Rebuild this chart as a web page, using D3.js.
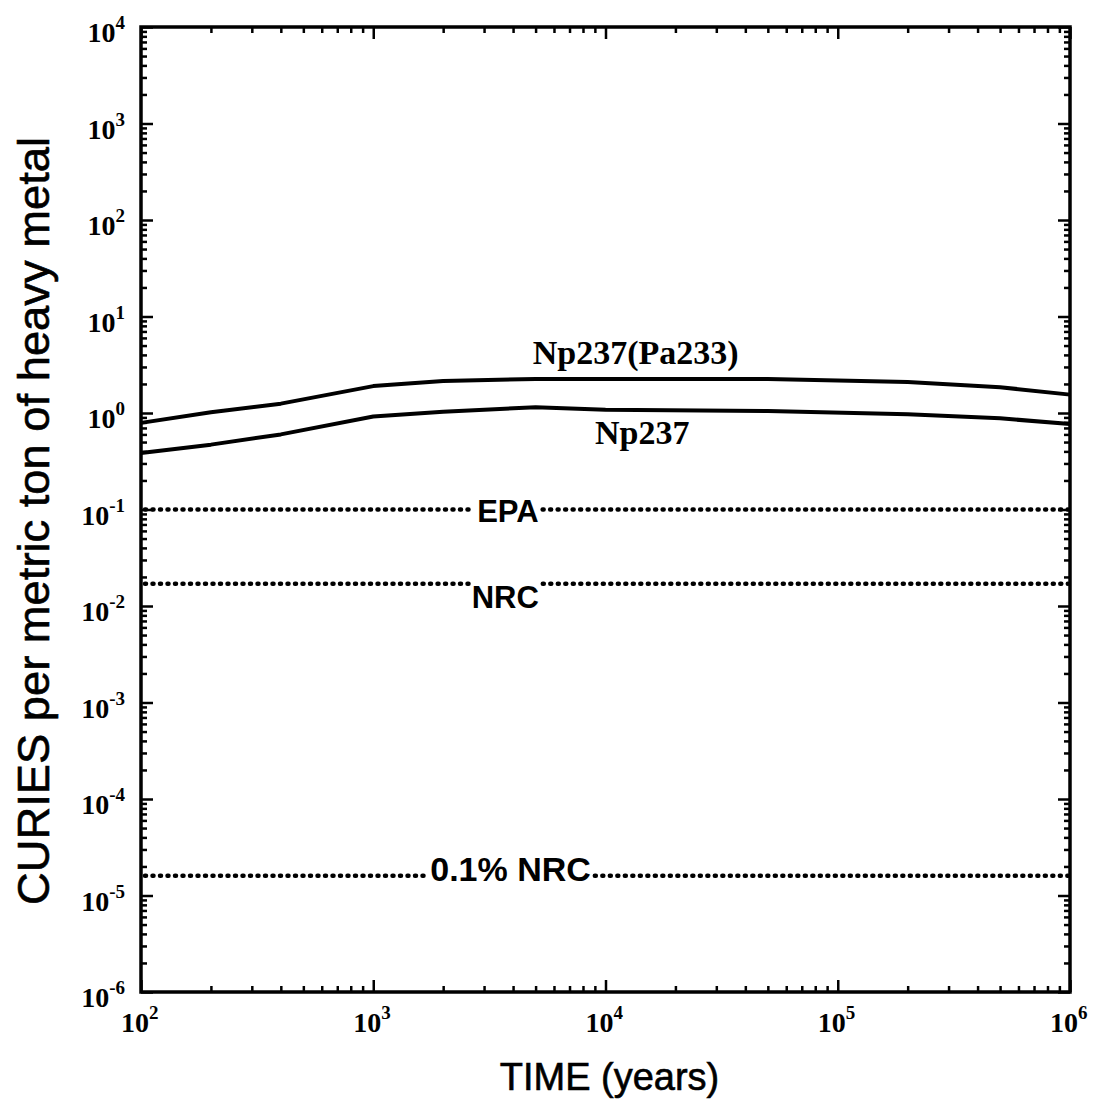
<!DOCTYPE html>
<html><head><meta charset="utf-8">
<script src="https://cdn.jsdelivr.net/npm/d3@7"></script>
<style>body{margin:0;background:#fff}svg{display:block}</style>
</head><body>
<script>
const times = [100, 200, 400, 1000, 2000, 5000, 1e4, 5e4, 2e5, 5e5, 1e6];
const np237pa233 = [0.79, 1.02, 1.25, 1.9, 2.15, 2.25, 2.25, 2.25, 2.1, 1.85, 1.55];
const np237 = [0.385, 0.47, 0.6, 0.92, 1.03, 1.15, 1.08, 1.05, 0.97, 0.88, 0.77];
const limitNames = ["EPA", "NRC", "0.1% NRC"];
const limitValues = [0.1, 0.017, 1.6e-5];
const limitLabelTimes = [3800, 3700, 3900];
const xTickExps = [2, 3, 4, 5, 6];
const yTickExps = [-6, -5, -4, -3, -2, -1, 0, 1, 2, 3, 4];
const xTitle = "TIME (years)";
const yTitle = "CURIES per metric ton of heavy metal";

const W = 1099, H = 1100;
const L = 141, R = 1070, T = 27, B = 992;
const svg = d3.select("body").append("svg").attr("width", W).attr("height", H);
const x = d3.scaleLog().domain([1e2, 1e6]).range([L, R]);
const y = d3.scaleLog().domain([1e-6, 1e4]).range([B, T]);

const minors = (lo, hi) => { const a = []; for (let e = lo; e < hi; e++) for (let m = 2; m <= 9; m++) a.push(m * Math.pow(10, e)); return a; };
const xMaj = xTickExps.map(e => Math.pow(10, e)), yMaj = yTickExps.map(e => Math.pow(10, e));
const xMin = minors(2, 6), yMin = minors(-6, 4);

function ax(gen, vals, len, tr) {
  const g = svg.append("g").attr("transform", tr)
    .call(gen.tickValues(vals).tickSizeInner(len).tickSizeOuter(0).tickFormat(""));
  g.select(".domain").remove();
  g.selectAll("line").attr("stroke", "#000").attr("stroke-width", 2.5);
}
ax(d3.axisBottom(x), xMaj, -12, `translate(0,${B})`);
ax(d3.axisBottom(x), xMin, -6, `translate(0,${B})`);
ax(d3.axisTop(x), xMaj, -12, `translate(0,${T})`);
ax(d3.axisTop(x), xMin, -6, `translate(0,${T})`);
ax(d3.axisLeft(y), yMaj, -12, `translate(${L},0)`);
ax(d3.axisLeft(y), yMin, -6, `translate(${L},0)`);
ax(d3.axisRight(y), yMaj, -12, `translate(${R},0)`);
ax(d3.axisRight(y), yMin, -6, `translate(${R},0)`);

svg.append("rect").attr("x", L).attr("y", T).attr("width", R - L).attr("height", B - T)
  .attr("fill", "none").attr("stroke", "#000").attr("stroke-width", 3.5);

const serif = "'Liberation Serif','Times New Roman',serif";
const sans = "'Liberation Sans',Arial,Helvetica,sans-serif";

function powLabel(px, py, e, anchorStart) {
  const t = svg.append("text").attr("font-family", serif).attr("font-weight", "bold")
    .attr("font-size", 28).attr("fill", "#000");
  t.append("tspan").text("10");
  t.append("tspan").attr("font-size", 19).attr("dy", -13).text(e < 0 ? "-" + (-e) : String(e));
  t.attr("x", px).attr("y", py);
  if (!anchorStart) t.attr("text-anchor", "end");
  return t;
}
yTickExps.forEach(e => powLabel(L - 16, y(Math.pow(10, e)) + 15, e, false));
xTickExps.forEach(e => powLabel(x(Math.pow(10, e)) - 20, B + 40, e, true));

const line = d3.line().x(d => x(d[0])).y(d => y(d[1]));
[np237pa233, np237].forEach(s => {
  svg.append("path").datum(times.map((t, i) => [t, s[i]])).attr("d", line)
    .attr("fill", "none").attr("stroke", "#000").attr("stroke-width", 4).attr("stroke-linejoin", "round");
});

svg.append("text").attr("x", x(13500)).attr("y", y(2.25) - 15).attr("text-anchor", "middle")
  .attr("font-family", serif).attr("font-weight", "bold").attr("font-size", 34).text("Np237(Pa233)");
svg.append("text").attr("x", x(14400)).attr("y", y(1.08) + 34).attr("text-anchor", "middle")
  .attr("font-family", serif).attr("font-weight", "bold").attr("font-size", 34).text("Np237");

limitNames.forEach((name, i) => {
  const yy = y(limitValues[i]);
  const cx = x(limitLabelTimes[i]);
  const dyOff = name === "NRC" ? 24 : (name === "EPA" ? 12 : 5);
  const t = svg.append("text").attr("x", cx).attr("y", yy + dyOff).attr("text-anchor", "middle")
    .attr("font-family", sans).attr("font-weight", "bold").attr("font-size", name === "0.1% NRC" ? 34 : 31)
    .text(name);
  const bb = t.node().getBBox();
  const segs = [[L + 4, bb.x - 3], [bb.x + bb.width + 4, R - 2]];
  segs.forEach(sg => {
    svg.append("line").attr("x1", sg[0]).attr("x2", sg[1]).attr("y1", yy).attr("y2", yy)
      .attr("stroke", "#000").attr("stroke-width", 4.5).attr("stroke-linecap", "round")
      .attr("stroke-dasharray", "1 6.5");
  });
});

svg.append("text").attr("x", (L + R) / 2 + 4).attr("y", 1090).attr("text-anchor", "middle")
  .attr("font-family", sans).attr("font-size", 38).attr("stroke", "#000").attr("stroke-width", 0.6).text(xTitle);
svg.append("text").attr("transform", `translate(49,${521}) rotate(-90)`).attr("text-anchor", "middle")
  .attr("font-family", sans).attr("font-size", 45).attr("stroke", "#000").attr("stroke-width", 0.6)
  .attr("textLength", 768).attr("lengthAdjust", "spacingAndGlyphs")
  .text(yTitle);
</script>
</body></html>
